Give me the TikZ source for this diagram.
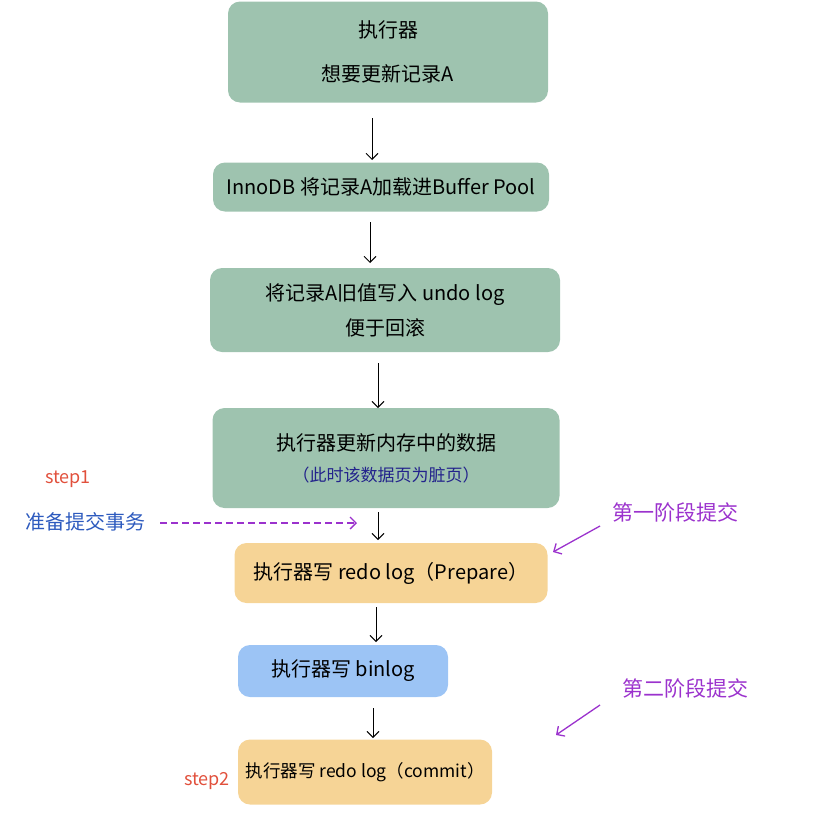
\documentclass[tikz,border=0pt]{standalone}
\usepackage{fontspec}
\newfontfamily\cjk{Noto Sans CJK SC}
\usetikzlibrary{arrows.meta}
\definecolor{gbox}{RGB}{158,195,175}
\definecolor{obox}{RGB}{246,212,150}
\definecolor{bbox}{RGB}{156,196,245}
\definecolor{purp}{RGB}{155,50,205}
\definecolor{redt}{RGB}{225,80,60}
\definecolor{bluet}{RGB}{45,90,190}
\definecolor{dblue}{RGB}{35,35,140}
\tikzset{
  stepbox/.style={rounded corners=12pt, inner sep=0pt, align=center, font=\cjk\fontsize{20}{36}\selectfont, text=black},
  flow/.style={draw=black, line width=0.9pt, -{Straight Barb[length=6pt,width=12pt]}},
  note/.style={font=\cjk\fontsize{20}{24}\selectfont, inner sep=0pt},
  parrow/.style={draw=purp, color=purp, line width=1.3pt, -{Straight Barb[length=6pt,width=12pt]}}
}
\begin{document}
\begin{tikzpicture}[x=1pt,y=-1pt]
\useasboundingbox (0,0) rectangle (826,822);
\node[stepbox, fill=gbox, minimum width=320pt, minimum height=101pt, font=\cjk\fontsize{20}{44}\selectfont] (b1) at (388,52) {执行器\\想要更新记录A};
\node[stepbox, fill=gbox, minimum width=336pt, minimum height=49pt] (b2) at (381,187) {InnoDB 将记录A加载进Buffer Pool};
\node[stepbox, fill=gbox, minimum width=350pt, minimum height=84pt, font=\cjk\fontsize{20}{35}\selectfont] (b3) at (385,310) {将记录A旧值写入 undo log\\便于回滚};
\node[stepbox, fill=gbox, minimum width=347pt, minimum height=100pt, font=\cjk\fontsize{20}{31}\selectfont] (b4) at (386,458) {执行器更新内存中的数据\\{\color{dblue}\fontsize{17}{20}\selectfont（此时该数据页为脏页）}};
\node[stepbox, fill=obox, minimum width=313pt, minimum height=60pt] (b5) at (391,573) {执行器写 redo log（Prepare）};
\node[stepbox, fill=bbox, minimum width=210pt, minimum height=52pt] (b6) at (343,671) {执行器写 binlog};
\node[stepbox, fill=obox, minimum width=254pt, minimum height=65pt, font=\cjk\fontsize{17.5}{20}\selectfont] (b7) at (365,772) {执行器写 redo log（commit）};

\coordinate (a1s) at (372,118); \coordinate (a1e) at (372,160);
\coordinate (a2s) at (370,222); \coordinate (a2e) at (370,263);
\coordinate (a3s) at (378,363); \coordinate (a3e) at (378,408);
\coordinate (a4s) at (378,512); \coordinate (a4e) at (378,540);
\coordinate (a5s) at (376,607); \coordinate (a5e) at (376,642);
\coordinate (a6s) at (373,708); \coordinate (a6e) at (373,738);
\draw[flow] (a1s) -- (a1e);
\draw[flow] (a2s) -- (a2e);
\draw[flow] (a3s) -- (a3e);
\draw[flow] (a4s) -- (a4e);
\draw[flow] (a5s) -- (a5e);
\draw[flow] (a6s) -- (a6e);

\node[note, text=redt, font=\cjk\fontsize{18}{20}\selectfont] (s1) at (68,479) {step1};
\node[note, text=bluet] (prep) at (85,522) {准备提交事务};
\coordinate (dashstart) at (160,523);
\coordinate (dashend) at (357,523);
\draw[parrow, dash pattern=on 7pt off 4pt] (dashstart) -- (dashend);

\node[note, text=purp, font=\cjk\fontsize{21}{24}\selectfont] (p1) at (675,512) {第一阶段提交};
\coordinate (p1s) at (600,526); \coordinate (p1e) at (553,552);
\draw[parrow] (p1s) -- (p1e);

\node[note, text=purp, font=\cjk\fontsize{21}{24}\selectfont] (p2) at (685,688) {第二阶段提交};
\coordinate (p2s) at (600,705); \coordinate (p2e) at (556,735);
\draw[parrow] (p2s) -- (p2e);

\node[note, text=redt, font=\cjk\fontsize{18}{20}\selectfont] (s2) at (207,781) {step2};
\end{tikzpicture}
\end{document}
